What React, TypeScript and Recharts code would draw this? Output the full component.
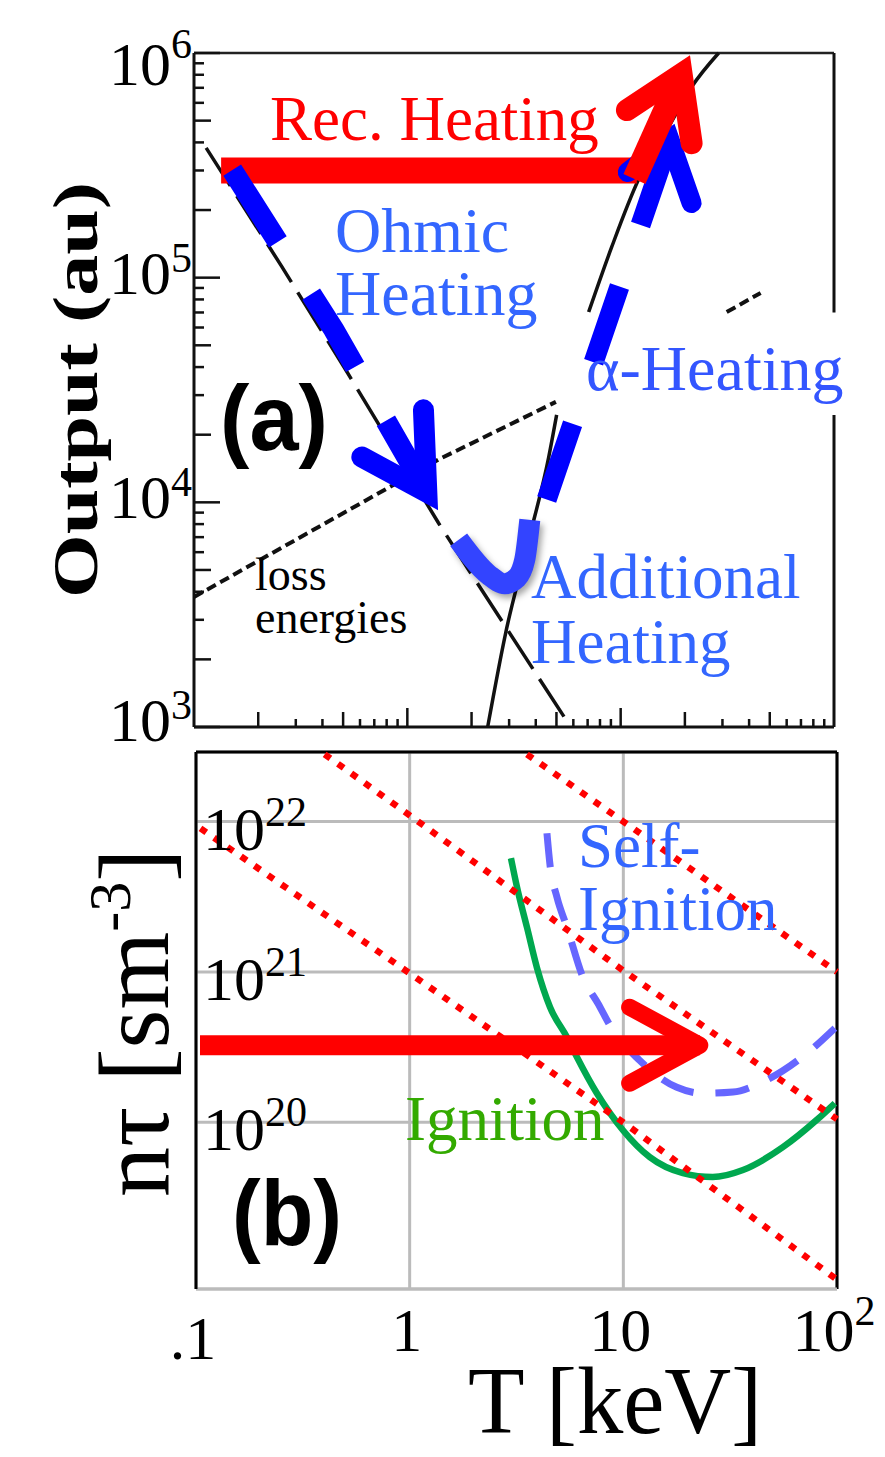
import React from 'react'
import { LineChart, Line, XAxis, YAxis, ReferenceLine, CartesianGrid } from 'recharts'

const serif = '"Liberation Serif", "Times New Roman", serif'
const sans = '"Liberation Sans", Arial, sans-serif'

// ---------- panel (a): output vs temperature ----------
const A_Y_MAJOR = [1e3, 1e4, 1e5, 1e6]
const DECADE_STEPS = [2, 3, 4, 5, 6, 7, 8, 9]
const A_X_DECADES = [0.1, 1, 10]
const A_Y_DECADES = [1e3, 1e4, 1e5]

// black curves of the scanned plot (T in keV, output in au); null = hidden behind the label box
const ohmicLoss = [
  { T: 0.114, y: 3.78e5 }, { T: 0.258, y: 1.12e5 }, { T: 0.515, y: 3.88e4 },
  { T: 1.4, y: 8.09e3 }, { T: 1.94, y: 5.0e3 }, { T: 5.83, y: 1.0e3 },
]
const alphaPower = [
  { T: 2.38, y: 1.0e3 }, { T: 2.89, y: 2.62e3 }, { T: 3.71, y: 6.81e3 }, { T: 4.6, y: 1.59e4 },
  { T: 5.01, y: 2.45e4 }, { T: 6.0, y: null }, { T: 7.08, y: 7.03e4 }, { T: 9.08, y: 1.37e5 },
  { T: 12.1, y: 2.72e5 }, { T: 16.2, y: 4.41e5 }, { T: 21.5, y: 7.06e5 }, { T: 28.8, y: 1.0e6 },
]
const lossEnergies = [
  { T: 0.1, y: 3.79e3 }, { T: 1.4, y: 1.55e4 }, { T: 4.97, y: 2.8e4 },
  { T: 10, y: null }, { T: 31.4, y: 7.03e4 }, { T: 45.3, y: 8.55e4 },
]

// coloured arrows drawn over the scan
const recBar = [{ T: 0.134, y: 3.0e5 }, { T: 11.9, y: 3.0e5 }]
const recRise = [{ T: 11.6, y: 2.75e5 }, { T: 19.3, y: 8.07e5 }]
const recHead = [{ T: 10.7, y: 5.57e5 }, { T: 19.3, y: 8.07e5 }, { T: 21.5, y: 3.97e5 }]
const ohmicArrow = [{ T: 0.151, y: 3.01e5 }, { T: 0.453, y: 5.85e4 }, { T: 1.234, y: 1.11e4 }]
const ohmicHead = [{ T: 0.612, y: 1.59e4 }, { T: 1.234, y: 1.11e4 }, { T: 1.19, y: 2.58e4 }]
const additionalHook = [
  { T: 1.74, y: 6.81e3 }, { T: 2.41, y: 4.75e3 }, { T: 2.86, y: 4.34e3 },
  { T: 3.26, y: 4.61e3 }, { T: 3.55, y: 5.55e3 }, { T: 3.75, y: 8.36e3 },
]
const alphaArrow = [{ T: 4.5, y: 1.03e4 }, { T: 16.96, y: 4.1e5 }]
const alphaHead = [{ T: 10.8, y: 2.95e5 }, { T: 16.96, y: 4.1e5 }, { T: 21.5, y: 2.15e5 }]

// ---------- panel (b): n tau vs T ----------
const T_TICKS = [0.1, 1, 10, 100]
const T_TICK_TEXT = [['.1', ''], ['1', ''], ['10', ''], ['10', '2']]
const NT_TICKS = [1e20, 1e21, 1e22]
const NT_DOMAIN = [7.8e18, 2.9e22]

const lawsonLow = [{ T: 0.105, y: 9.0e21 }, { T: 1, y: 9.8e20 }, { T: 10, y: 1.0e20 }, { T: 100, y: 9.0e18 }]
const lawsonMid = [{ T: 0.4, y: 2.8e22 }, { T: 1, y: 1.1e22 }, { T: 10, y: 1.02e21 }, { T: 100, y: 1.05e20 }]
const lawsonHigh = [{ T: 3.54, y: 2.8e22 }, { T: 10, y: 1.0e22 }, { T: 100, y: 1.0e21 }]

const ignition = [
  { T: 2.98, y: 5.7e21 }, { T: 3.18, y: 3.66e21 }, { T: 3.54, y: 1.98e21 }, { T: 3.94, y: 1.07e21 },
  { T: 4.54, y: 5.83e20 }, { T: 5.45, y: 3.68e20 }, { T: 6.07, y: 2.71e20 }, { T: 7.52, y: 1.56e20 },
  { T: 9.96, y: 8.87e19 }, { T: 13.3, y: 5.87e19 }, { T: 19.0, y: 4.6e19 }, { T: 26.2, y: 4.33e19 },
  { T: 36.3, y: 4.82e19 }, { T: 55.8, y: 6.84e19 }, { T: 80.5, y: 1.04e20 }, { T: 97.7, y: 1.34e20 },
]
const selfIgnition = [
  { T: 4.39, y: 8.36e21 }, { T: 4.54, y: 5.12e21 }, { T: 4.89, y: 3.14e21 }, { T: 5.45, y: 1.98e21 },
  { T: 6.47, y: 9.22e20 }, { T: 7.6, y: 6.19e20 }, { T: 8.93, y: 4.1e20 }, { T: 11.9, y: 2.59e20 },
  { T: 17.8, y: 1.71e20 }, { T: 23.6, y: 1.56e20 }, { T: 32.6, y: 1.59e20 }, { T: 43.5, y: 1.82e20 },
  { T: 72.3, y: 2.88e20 }, { T: 97.7, y: 4.23e20 },
]
const pathBar = [{ T: 0.1044, y: 3.26e20 }, { T: 22.8, y: 3.26e20 }]
const pathHead = [{ T: 10.7, y: 5.83e20 }, { T: 22.8, y: 3.26e20 }, { T: 10.7, y: 1.82e20 }]

const A_X_TICKS = A_X_DECADES.flatMap(d => [d, ...DECADE_STEPS.map(s => s * d)]).filter(v => v > 0.1)
const A_Y_TICKS = [...A_Y_DECADES.flatMap(d => [d, ...DECADE_STEPS.map(s => s * d)]), 1e6]

function decompose(v: number) {
  const e = Math.floor(Math.log10(v) + 1e-9)
  return { e, m: Math.round(v / Math.pow(10, e)) }
}

function ScanYTick({ x, y, payload }: any) {
  const { e, m } = decompose(payload.value)
  const len = m === 1 ? 26 : m === 2 || m === 5 ? 17 : 10
  const lift = e === 6 ? 32 : e === 3 ? 14 : 16
  return (
    <g>
      <line x1={x} y1={y} x2={x + len} y2={y} stroke="#111" strokeWidth={2.5} />
      {m === 1 && A_Y_MAJOR.includes(payload.value) && (
        <text x={x - 2} y={y + lift} textAnchor="end" fontFamily={serif} fontSize={62} fill="#000">
          10<tspan dy={e === 6 ? -27 : -22} fontSize={42}>{e}</tspan>
        </text>
      )}
    </g>
  )
}

function ScanXTick({ x, y, payload }: any) {
  const { m } = decompose(payload.value)
  const len = m === 1 ? 19 : m === 2 || m === 5 ? 15 : 8
  return <line x1={x} y1={y} x2={x} y2={y - len} stroke="#111" strokeWidth={2.5} />
}

function NtYTick({ x, y, payload }: any) {
  const { e } = decompose(payload.value)
  return (
    <text x={x + 7} y={y + 28} fontFamily={serif} fontSize={62} fill="#000">
      10<tspan dy={-24} fontSize={42}>{e}</tspan>
    </text>
  )
}

function TXTick({ x, y, payload }: any) {
  const i = T_TICKS.indexOf(payload.value)
  const [base, sup] = T_TICK_TEXT[i] || ['', '']
  return (
    <text x={x - 3} y={y + (i === 0 ? 70 : 62)} textAnchor="middle" fontFamily={serif} fontSize={62} fill="#000">
      {base}
      {sup && <tspan dy={-26} fontSize={42}>{sup}</tspan>}
    </text>
  )
}

const noDot = { dot: false, activeDot: false, isAnimationActive: false } as const

export default function App() {
  return (
    <div style={{ position: 'absolute', left: 0, top: 0, width: 885, height: 1457, background: '#fff', overflow: 'hidden' }}>
      <style>{`.shadowed path { filter: drop-shadow(3px 4px 3px rgba(0,0,0,0.35)); }`}</style>

      <div style={{ position: 'absolute', left: 0, top: 0 }}>
        <LineChart width={885} height={760} margin={{ top: 53, right: 51, bottom: 23, left: 184 }}>
          <XAxis dataKey="T" type="number" scale="log" domain={[0.1, 100]} ticks={A_X_TICKS} interval={0}
            tick={(p: any) => <ScanXTick {...p} />} tickLine={false} tickSize={0} tickMargin={0} height={10}
            axisLine={{ stroke: '#111', strokeWidth: 3 }} />
          <YAxis type="number" scale="log" domain={[1e3, 1e6]} ticks={A_Y_TICKS} interval={0}
            tick={(p: any) => <ScanYTick {...p} />} tickLine={false} tickSize={0} tickMargin={0} width={10}
            axisLine={{ stroke: '#111', strokeWidth: 3 }} />
          <ReferenceLine y={1e6} stroke="#222" strokeWidth={2.5} />
          <ReferenceLine segment={[{ x: 100, y: 1e3 }, { x: 100, y: 2.45e4 }]} stroke="#111" strokeWidth={3} />
          <ReferenceLine segment={[{ x: 100, y: 7.0e4 }, { x: 100, y: 1e6 }]} stroke="#111" strokeWidth={3} />

          <Line data={ohmicLoss} dataKey="y" stroke="#111" strokeWidth={3.5} strokeDasharray="45 12" {...noDot} />
          <Line data={alphaPower} dataKey="y" type="monotone" stroke="#111" strokeWidth={3.5} {...noDot} />
          <Line data={lossEnergies} dataKey="y" stroke="#111" strokeWidth={4} strokeDasharray="10 5" {...noDot} />

          <Line data={recBar} dataKey="y" stroke="#ff0000" strokeWidth={26} {...noDot} />
          <Line data={ohmicArrow} dataKey="y" stroke="#0000ff" strokeWidth={21} strokeDasharray="85 62" {...noDot} />
          <Line data={ohmicHead} dataKey="y" stroke="#0000ff" strokeWidth={21} strokeLinecap="round" strokeLinejoin="miter" {...noDot} />
          <Line data={additionalHook} dataKey="y" type="monotone" className="shadowed" stroke="#3344ff" strokeWidth={21} strokeLinejoin="round" {...noDot} />
          <Line data={alphaArrow} dataKey="y" stroke="#0000ff" strokeWidth={20} strokeDasharray="80 65" {...noDot} />
          <Line data={alphaHead} dataKey="y" stroke="#0000ff" strokeWidth={20} strokeLinecap="round" strokeLinejoin="miter" {...noDot} />
          <Line data={recRise} dataKey="y" stroke="#ff0000" strokeWidth={24} {...noDot} />
          <Line data={recHead} dataKey="y" stroke="#ff0000" strokeWidth={22} strokeLinecap="round" strokeLinejoin="miter" {...noDot} />
        </LineChart>
      </div>

      <div style={{ position: 'absolute', left: 0, top: 740 }}>
        <LineChart width={885} height={717} margin={{ top: 12, right: 48, bottom: 148, left: 176 }}>
          <CartesianGrid stroke="#bbbbbb" strokeWidth={3} />
          <XAxis dataKey="T" type="number" scale="log" domain={[0.1, 100]} ticks={T_TICKS} interval={0}
            tick={(p: any) => <TXTick {...p} />} tickLine={false} tickSize={0} tickMargin={0} height={20}
            axisLine={{ stroke: '#bbbbbb', strokeWidth: 3 }} />
          <YAxis type="number" scale="log" domain={NT_DOMAIN} ticks={NT_TICKS} interval={0}
            tick={(p: any) => <NtYTick {...p} />} tickLine={false} tickSize={0} tickMargin={0} width={20}
            axisLine={{ stroke: '#000', strokeWidth: 3 }} />
          <ReferenceLine y={NT_DOMAIN[1]} stroke="#000" strokeWidth={3} />
          <ReferenceLine x={100} stroke="#000" strokeWidth={3} />

          <Line data={ignition} dataKey="y" type="monotone" stroke="#00a84f" strokeWidth={6.5} {...noDot} />
          <Line data={selfIgnition} dataKey="y" type="monotone" stroke="#6666ff" strokeWidth={7} strokeDasharray="34 22" {...noDot} />
          <Line data={lawsonLow} dataKey="y" stroke="#ff0000" strokeWidth={6.5} strokeDasharray="7 9.4" {...noDot} />
          <Line data={lawsonMid} dataKey="y" stroke="#ff0000" strokeWidth={6.5} strokeDasharray="7 9.4" {...noDot} />
          <Line data={lawsonHigh} dataKey="y" stroke="#ff0000" strokeWidth={6.5} strokeDasharray="7 9.4" {...noDot} />
          <Line data={pathBar} dataKey="y" stroke="#ff0000" strokeWidth={20} {...noDot} />
          <Line data={pathHead} dataKey="y" stroke="#ff0000" strokeWidth={17} strokeLinecap="round" strokeLinejoin="round" {...noDot} />
        </LineChart>
      </div>

      <svg width={885} height={1457} style={{ position: 'absolute', left: 0, top: 0, pointerEvents: 'none' }}>
        {/* panel (a) */}
        <text transform="translate(97,390) rotate(-90)" textAnchor="middle" fontFamily={serif} fontWeight="bold"
          fontSize={64} textLength={416} lengthAdjust="spacingAndGlyphs" fill="#000">Output (au)</text>
        <text x={270} y={140} fontFamily={serif} fontSize={63} fill="#ff0000">Rec. Heating</text>
        <text x={335} y={252} fontFamily={serif} fontSize={64} fill="#3366ff">Ohmic</text>
        <text x={335} y={315} fontFamily={serif} fontSize={64} fill="#3366ff">Heating</text>
        <text x={586} y={390} fontFamily={serif} fontSize={64} fill="#3355ff">α-Heating</text>
        <text x={531} y={598} fontFamily={serif} fontSize={63} fill="#3366ff">Additional</text>
        <text x={531} y={663} fontFamily={serif} fontSize={63} fill="#3366ff">Heating</text>
        <text x={255} y={590} fontFamily={serif} fontSize={46} fill="#000">loss</text>
        <text x={255} y={633} fontFamily={serif} fontSize={46} fill="#000">energies</text>
        <text x={220} y={450} fontFamily={sans} fontWeight="bold" fontSize={92} textLength={108}
          lengthAdjust="spacingAndGlyphs" fill="#000">(a)</text>

        {/* panel (b) */}
        <text transform="translate(168,1197) rotate(-90)" fontFamily={serif} fontSize={100} fill="#000">
          nτ [sm<tspan dy={-38} fontSize={60}>-3</tspan><tspan dy={38}>]</tspan>
        </text>
        <text x={468} y={1433} fontFamily={serif} fontSize={96} textLength={294} lengthAdjust="spacingAndGlyphs" fill="#000">T [keV]</text>
        <text x={578} y={867} fontFamily={serif} fontSize={63} fill="#3366ff">Self-</text>
        <text x={578} y={930} fontFamily={serif} fontSize={63} fill="#3366ff">Ignition</text>
        <text x={405} y={1140} fontFamily={serif} fontSize={63} fill="#33aa00">Ignition</text>
        <text x={232} y={1245} fontFamily={sans} fontWeight="bold" fontSize={92} textLength={110}
          lengthAdjust="spacingAndGlyphs" fill="#000">(b)</text>
      </svg>
    </div>
  )
}
